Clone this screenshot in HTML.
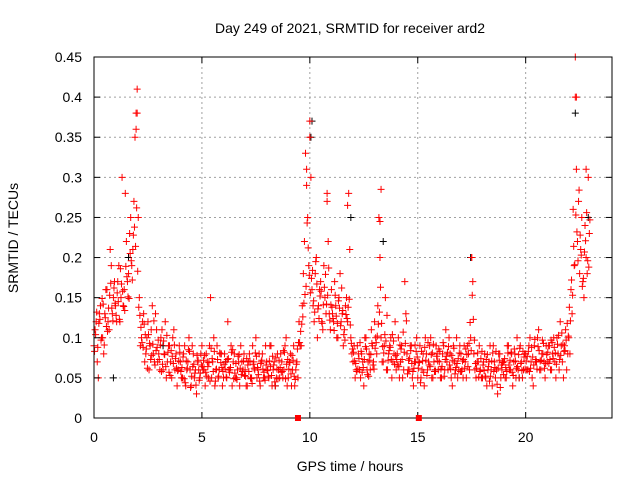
<!DOCTYPE html>
<html><head><meta charset="utf-8"><style>
body{margin:0;background:#fff}
svg{display:block;font-family:"Liberation Sans",sans-serif}
</style></head><body>
<svg id="c" width="640" height="480">
<rect x="0" y="0" width="640" height="480" fill="#fff"/>
<text x="350" y="33" font-size="14" text-anchor="middle">Day 249 of 2021, SRMTID for receiver ard2</text>
<text x="350" y="471" font-size="14" text-anchor="middle">GPS time / hours</text>
<text x="18" y="238" font-size="14" text-anchor="middle" transform="rotate(-90 18 238)">SRMTID / TECUs</text>
<g id="grid"></g>
<g id="marks"></g>
<g id="axes"></g>
</svg>
<script>
const xTicks=[0,5,10,15,20];
const yTicks=[0,0.05,0.1,0.15,0.2,0.25,0.3,0.35,0.4,0.45];
const yTickLabels=["0","0.05","0.1","0.15","0.2","0.25","0.3","0.35","0.4","0.45"];
const stepHours=0.1;
const redA=[.09,.12,.05,.14,.10,.13,.16,.11,.19,.15,
.14,.17,.12,.30,.16,.22,.18,.25,.21,.35,
.41,.15,.10,.13,.08,.12,.09,.14,.07,.11,
.08,.10,.06,.12,.07,.09,.05,.11,.08,.06,
.07,.05,.09,.06,.10,.04,.08,.06,.07,.05,
.09,.06,.08,.05,.15,.07,.04,.09,.06,.08,
.05,.07,.12,.06,.04,.08,.05,.07,.09,.06,
.06,.04,.08,.05,.07,.10,.06,.04,.08,.05,
.07,.05,.09,.06,.04,.08,.05,.07,.06,.10,
.05,.08,.06,.04,.07,.12,.09,.18,.33,.25,
.37,.16,.12,.20,.14,.17,.11,.15,.28,.13,
.16,.12,.14,.10,.18,.13,.11,.15,.28,.10,
.07,.05,.09,.06,.08,.04,.10,.07,.06,.09,
.12,.08,.25,.10,.07,.15,.06,.09,.05,.08,
.06,.10,.07,.05,.17,.08,.06,.09,.04,.07,
.05,.09,.06,.04,.08,.07,.10,.05,.06,.08,
.07,.05,.09,.11,.06,.08,.04,.07,.10,.06,
.08,.05,.07,.09,.06,.20,.08,.05,.07,.06,
.05,.08,.04,.07,.06,.09,.05,.03,.08,.06,
.07,.05,.09,.06,.04,.08,.10,.05,.07,.06,
.08,.06,.10,.05,.09,.07,.11,.06,.08,.05,
.07,.09,.06,.10,.05,.08,.12,.07,.09,.06,
.10,.16,.26,.40,.22,.18,.25,.15,.20,.30];
const redB=[.11,.07,.13,.10,.08,.16,.12,.21,.13,.17,
.12,.19,.15,.14,.28,.17,.23,.19,.27,.38,
.25,.09,.12,.07,.10,.06,.11,.08,.13,.07,
.06,.11,.08,.05,.09,.07,.10,.06,.04,.09,
.05,.08,.04,.07,.06,.09,.05,.03,.06,.08,
.06,.04,.07,.09,.05,.10,.06,.05,.08,.04,
.08,.05,.06,.09,.07,.05,.06,.04,.07,.08,
.04,.07,.05,.09,.06,.05,.08,.07,.05,.09,
.06,.09,.04,.07,.05,.06,.08,.05,.09,.04,
.07,.04,.09,.06,.05,.09,.14,.22,.29,.19,
.30,.14,.18,.10,.16,.12,.19,.13,.22,.11,
.13,.17,.10,.15,.12,.09,.14,.12,.21,.08,
.09,.06,.08,.05,.07,.10,.06,.08,.11,.07,
.10,.14,.20,.07,.09,.06,.08,.10,.07,.12,
.08,.05,.09,.06,.13,.06,.09,.05,.07,.10,
.07,.05,.08,.10,.06,.09,.05,.07,.09,.06,
.05,.08,.06,.07,.10,.05,.09,.06,.05,.09,
.06,.09,.05,.08,.10,.17,.06,.07,.09,.05,
.07,.05,.06,.09,.04,.07,.06,.08,.05,.07,
.05,.09,.06,.08,.07,.05,.06,.09,.05,.08,
.06,.09,.07,.04,.07,.10,.06,.08,.07,.09,
.09,.06,.08,.07,.10,.06,.09,.05,.11,.08,
.08,.13,.19,.31,.27,.21,.17,.24,.18,.23];
const redC=[.083,.132,.118,.097,.142,.125,.108,.153,.137,.162,
.128,.145,.186,.158,.134,.176,.149,.196,.228,.214,
.183,.128,.094,.117,.086,.104,.073,.092,.066,.088,
.073,.058,.096,.064,.082,.053,.077,.091,.062,.071,
.058,.076,.044,.062,.083,.052,.067,.041,.072,.056,
.064,.078,.052,.069,.087,.058,.046,.073,.081,.063,
.067,.051,.074,.063,.085,.056,.048,.079,.054,.071,
.052,.066,.071,.043,.062,.077,.054,.068,.061,.047,
.059,.071,.053,.066,.075,.049,.063,.058,.082,.067,
.061,.055,.072,.048,.086,.094,.117,.143,.164,.212,
.156,.184,.132,.167,.124,.158,.141,.179,.153,.122,
.138,.109,.127,.146,.115,.134,.097,.124,.148,.093,
.082,.068,.061,.094,.057,.073,.086,.052,.079,.066,
.087,.102,.132,.118,.081,.096,.072,.088,.104,.067,
.073,.064,.086,.107,.093,.055,.074,.068,.062,.083,
.062,.044,.071,.088,.053,.066,.079,.092,.058,.071,
.083,.064,.052,.077,.089,.061,.072,.055,.068,.081,
.058,.073,.086,.064,.119,.153,.097,.062,.051,.074,
.066,.052,.079,.046,.071,.058,.083,.062,.038,.069,
.074,.058,.066,.082,.053,.071,.064,.087,.059,.076,
.071,.083,.062,.076,.098,.061,.084,.072,.093,.068,
.082,.073,.094,.088,.067,.103,.078,.092,.084,.118,
.138,.172,.214,.253,.196,.228,.164,.207,.256,.188];
const redD=[.104,.088,.123,.149,.091,.114,.137,.168,.121,.143,
.156,.123,.167,.139,.189,.151,.205,.172,.238,.262,
.138,.113,.088,.104,.062,.093,.078,.121,.084,.097,
.091,.067,.079,.103,.057,.084,.068,.074,.059,.082,
.063,.049,.071,.085,.038,.064,.056,.078,.047,.066,
.072,.057,.064,.046,.074,.083,.061,.052,.069,.058,
.061,.073,.057,.082,.049,.068,.077,.062,.058,.053,
.074,.058,.049,.067,.081,.063,.046,.072,.057,.066,
.052,.064,.077,.045,.061,.072,.057,.084,.049,.073,
.069,.078,.052,.067,.094,.108,.126,.154,.243,.178,
.174,.146,.195,.136,.152,.118,.163,.142,.187,.141,
.124,.153,.118,.137,.162,.104,.129,.138,.116,.086,
.071,.058,.074,.083,.063,.089,.054,.072,.093,.061,
.094,.117,.163,.089,.104,.128,.084,.073,.096,.078,
.066,.091,.073,.082,.121,.072,.084,.058,.091,.076,
.069,.083,.057,.072,.094,.064,.081,.058,.077,.086,
.061,.094,.073,.082,.066,.078,.087,.063,.074,.058,
.071,.062,.079,.093,.084,.123,.068,.081,.058,.083,
.059,.073,.064,.052,.081,.063,.042,.072,.066,.054,
.063,.081,.072,.057,.086,.062,.079,.068,.083,.061,
.077,.058,.088,.066,.073,.089,.071,.097,.062,.079,
.068,.097,.074,.081,.092,.073,.106,.083,.097,.102,
.121,.153,.191,.232,.284,.203,.174,.221,.196,.247];
const spikeTimes=[1.95,2.0,9.85,10.0,10.8,11.75,13.3,13.25,17.5,22.3,22.35,22.8];
const spikeValues=[0.36,0.38,0.31,0.35,0.27,0.265,0.285,0.245,0.2,0.45,0.40,0.31];
const blackTimes=[0.9,1.6,3.2,6.1,8.4,10.05,10.1,11.9,13.4,15.8,17.45,19.7,22.3,22.9];
const blackValues=[0.05,0.2,0.09,0.07,0.04,0.35,0.37,0.25,0.22,0.06,0.2,0.05,0.38,0.25];
const markerTimes=[9.45,15.05];

const X0=94,X1=612,Y0=418,Y1=57;
const xs=t=>X0+t*(X1-X0)/24;
const ys=v=>Y0-v*(Y0-Y1)/0.45;
const NS="http://www.w3.org/2000/svg";
function mk(tag,at,parent){const e=document.createElementNS(NS,tag);for(const k in at)e.setAttribute(k,at[k]);parent.appendChild(e);return e;}
const grid=document.getElementById('grid'),axes=document.getElementById('axes'),marks=document.getElementById('marks');
xTicks.forEach(t=>{
  const l=mk('line',{x1:xs(t),x2:xs(t),y1:Y1,y2:Y0,stroke:'#a0a0a0','stroke-dasharray':'2,3','stroke-width':1},grid);
  
  
  mk('line',{x1:xs(t),x2:xs(t),y1:Y0,y2:Y0-6,stroke:'#000'},axes);
  mk('line',{x1:xs(t),x2:xs(t),y1:Y1,y2:Y1+6,stroke:'#000'},axes);
  const tx=mk('text',{x:xs(t),y:Y0+24,'font-size':14,'text-anchor':'middle'},axes);
  tx.textContent=t;
  
  
});
yTicks.forEach((v,i)=>{
  const l=mk('line',{x1:X0,x2:X1,y1:ys(v),y2:ys(v),stroke:'#a0a0a0','stroke-dasharray':'2,3','stroke-width':1},grid);
  
  
  mk('line',{x1:X0,x2:X0+6,y1:ys(v),y2:ys(v),stroke:'#000'},axes);
  mk('line',{x1:X1,x2:X1-6,y1:ys(v),y2:ys(v),stroke:'#000'},axes);
  const tx=mk('text',{x:X0-12,y:ys(v)+5,'font-size':14,'text-anchor':'end'},axes);
  tx.textContent=yTickLabels[i];
  
  
});
const frame=mk('rect',{x:X0,y:Y1,width:X1-X0,height:Y0-Y1,fill:'none',stroke:'#000'},axes);


function plus(t,v,color){
  const x=xs(t),y=ys(v);
  const p=mk('path',{d:`M${x-3.5} ${y}H${x+3.5}M${x} ${y-3.5}V${y+3.5}`,stroke:color,'stroke-width':1,fill:'none'},marks);
  
  
}
blackValues.forEach((v,i)=>plus(blackTimes[i],v,'#000'));
redA.forEach((v,i)=>plus(i*stepHours,v,'#f00'));
redB.forEach((v,i)=>plus(i*stepHours+stepHours/2,v,'#f00'));
redC.forEach((v,i)=>plus(i*stepHours+stepHours/4,v,'#f00'));
redD.forEach((v,i)=>plus(i*stepHours+3*stepHours/4,v,'#f00'));
spikeValues.forEach((v,i)=>plus(spikeTimes[i],v,'#f00'));
markerTimes.forEach(t=>{
  const r=mk('rect',{x:xs(t)-3,y:Y0-3,width:6,height:6,fill:'#f00'},axes);
  
  
});
</script>
</body></html>
